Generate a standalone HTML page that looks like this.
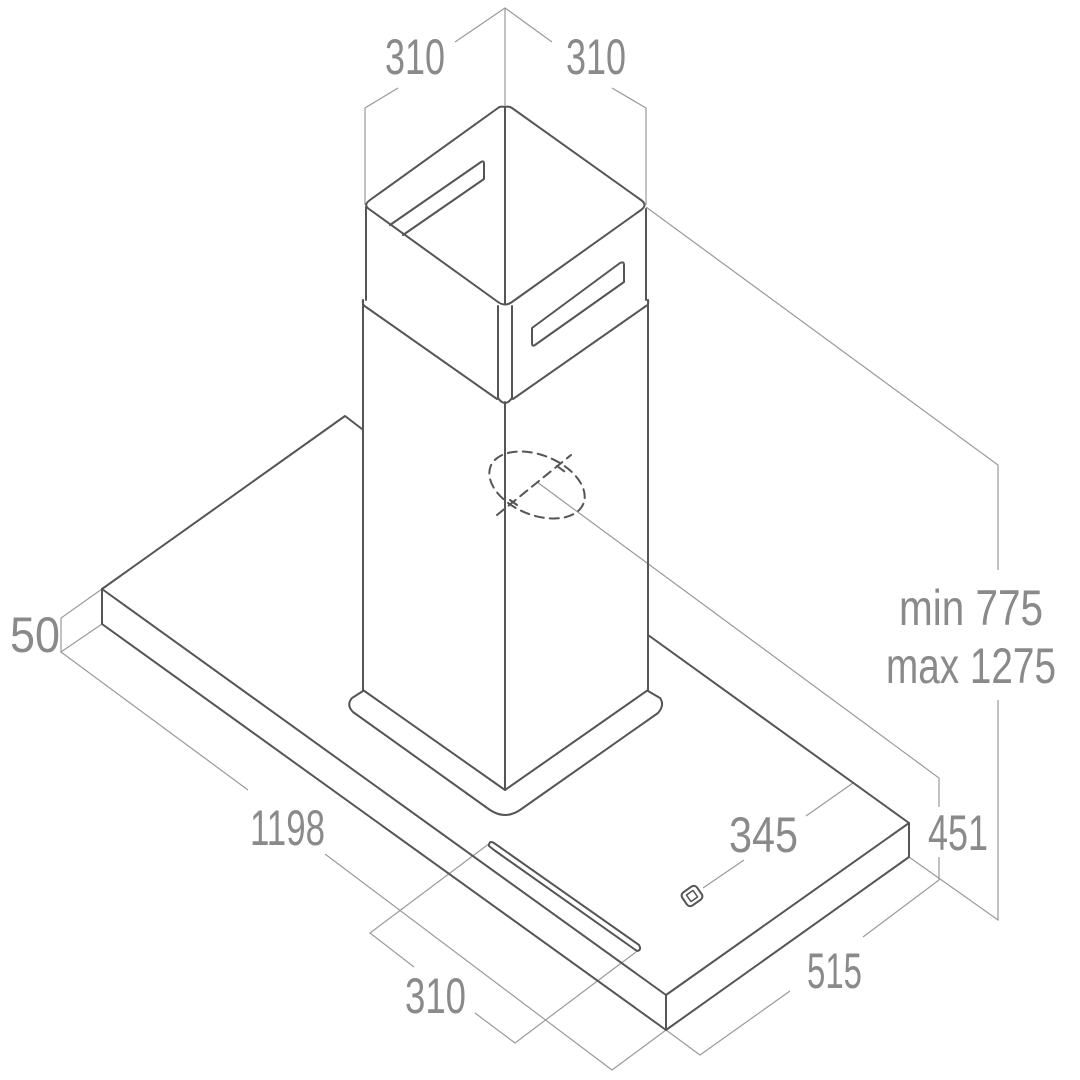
<!DOCTYPE html>
<html><head><meta charset="utf-8"><style>html,body{margin:0;padding:0;background:#fff}svg{display:block}</style></head>
<body>
<svg width="1080" height="1080" viewBox="0 0 1080 1080" xmlns="http://www.w3.org/2000/svg">
<g fill="none" stroke="#9a9a9a" stroke-width="1.2">
<!-- top dims -->
<polyline points="455,42 505,8 552,42"/>
<line x1="505" y1="8" x2="505" y2="107"/>
<polyline points="398,88 365,108 365,205"/>
<polyline points="612,88 646,108 646,205"/>
<!-- min/max -->
<polyline points="646,207 998,465 998,570"/>
<polyline points="998,700 998,920 909,857"/>
<!-- 50 -->
<polyline points="102,589 61,618 61,652 102,624"/>
<!-- 1198 -->
<polyline points="61,652 248,790"/>
<polyline points="325,854 612,1070 666,1030"/>
<!-- 515 -->
<polyline points="666,1030 700,1055 790,991"/>
<line x1="863" y1="937" x2="939" y2="880"/>
<!-- 451 -->
<polyline points="537,482 939,778 939,807"/>
<line x1="939" y1="857" x2="939" y2="880"/>
<!-- 345 -->
<line x1="853" y1="783" x2="806" y2="816"/>
<line x1="744" y1="860" x2="703" y2="888"/>
<!-- bottom 310 -->
<polyline points="490,843 370,933 414,967"/>
<polyline points="475,1013 515,1043 636,952"/>
</g>
<g fill="none" stroke="#555" stroke-width="2" stroke-linejoin="round" stroke-linecap="round">
<!-- hood slab -->
<polyline points="362,429 345,416 102,589 666,995 909,823 648,635"/>
<polyline points="102,589 102,624 666,1030 909,857 909,823"/>
<line x1="666" y1="995" x2="666" y2="1030"/>
<!-- slot on hood -->
<path d="M489,846 Q489,840 494,843 L639,945 Q642,950 637,951 L494,850 Z"/>
<!-- icon -->
<g transform="translate(692,896) rotate(-35)"><rect x="-9" y="-8" width="18" height="16" rx="4"/><rect x="-4" y="-4" width="8" height="8" stroke-width="1.5"/></g>
<!-- lower chimney -->
<line x1="363" y1="300" x2="363" y2="690"/>
<line x1="648" y1="300" x2="648" y2="690"/>
<line x1="505" y1="402" x2="505" y2="790"/>
<polyline points="363,690 505,790 648,690"/>
<path d="M363,691 L352,698 Q346,705 353,712 L490,810 Q505,820 520,810 L658,713 Q665,705 660,698 L648,691"/>
<!-- upper box -->
<path d="M505,107 Q500,106 498,108 L370,200 Q363,205 369,209 L498,302 Q505,307 512,302 L641,210 Q648,205 641,200 L512,108 Q509,106 505,107"/>
<line x1="505" y1="107" x2="505" y2="303"/>
<line x1="366" y1="207" x2="366" y2="300"/>
<line x1="646" y1="209" x2="646" y2="300"/>
<path d="M363,300 Q362,305 366,307 L497,399"/>
<path d="M648,300 Q649,305 646,306 L513,399"/>
<path d="M498,306 L498,398 Q505,408 512,398 L512,306"/>
<!-- slots -->
<path d="M390,225 L481,162 Q484,160 484,164 L484,179 L403,235"/>
<path d="M532,328 L620,263 Q624,261 624,265 L624,282 L535,345 Q532,347 532,343 Z"/>
<!-- dashed ellipse -->
<g stroke-dasharray="9,6">
<ellipse cx="537" cy="485" rx="50" ry="30" transform="rotate(22 537 485)"/>
<line x1="497" y1="515" x2="571" y2="455"/>
<line x1="510" y1="500" x2="517" y2="505"/>
<line x1="557" y1="466" x2="568" y2="474"/>
</g>
</g>
<g fill="#8a8a8a" font-family="Liberation Sans, sans-serif" font-size="50">
<text x="385" y="74" textLength="60" lengthAdjust="spacingAndGlyphs">310</text>
<text x="566" y="74" textLength="60" lengthAdjust="spacingAndGlyphs">310</text>
<text x="899" y="625" textLength="144" lengthAdjust="spacingAndGlyphs">min 775</text>
<text x="886" y="683" textLength="170" lengthAdjust="spacingAndGlyphs">max 1275</text>
<text x="10" y="652" textLength="50" lengthAdjust="spacingAndGlyphs">50</text>
<text x="250" y="845" textLength="75" lengthAdjust="spacingAndGlyphs">1198</text>
<text x="928" y="850" textLength="60" lengthAdjust="spacingAndGlyphs">451</text>
<text x="729" y="852" textLength="69" lengthAdjust="spacingAndGlyphs">345</text>
<text x="405" y="1013" textLength="61" lengthAdjust="spacingAndGlyphs">310</text>
<text x="807" y="988" textLength="55" lengthAdjust="spacingAndGlyphs">515</text>
</g>
</svg>
</body></html>
